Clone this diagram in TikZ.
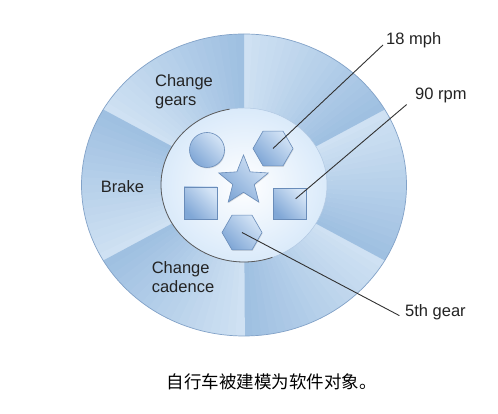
\documentclass[tikz,border=0pt]{standalone}
\usepackage{fontspec}
\setmainfont{Liberation Sans}
\newfontfamily\cjkfont{Noto Sans CJK SC}
\usepackage{tikz}
\usetikzlibrary{positioning,shapes.geometric,shadows}
\definecolor{secLight}{RGB}{208,226,243}
\definecolor{secDark}{RGB}{158,191,225}
\definecolor{rimBlue}{RGB}{130,162,200}
\definecolor{hubBlue}{RGB}{218,234,250}
\definecolor{partLight}{RGB}{212,228,246}
\definecolor{partDark}{RGB}{128,167,214}
\definecolor{partEdge}{RGB}{105,140,185}
\definecolor{inkGray}{RGB}{35,35,35}
\definecolor{lineGray}{RGB}{50,50,50}
\newcommand\labelfont{\fontsize{16.5}{19}\selectfont}

\begin{document}
\begin{tikzpicture}[
    x=1pt, y=1pt,
    on grid,
    part/.style={draw=partEdge, line width=0.6pt, inner sep=0pt, top color=partLight, bottom color=partDark, shading angle=-45,
      drop shadow={shadow xshift=0.6pt, shadow yshift=-1pt, opacity=0.25}},
    sector text/.style={font=\labelfont, text=inkGray, align=left},
    reading/.style={font=\labelfont, text=inkGray, inner sep=3pt, anchor=base west},
    callout/.style={draw=lineGray, line width=0.9pt}
]
  \path[fill=white, use as bounding box] (0,0) rectangle (498,414);
  \coordinate (hub) at (244,229);

  % wheel: six sectors, each one shaded round the hub
  \foreach \b in {-90,-30,30,90,150,210} {
    \foreach \i in {0,...,19} {
      \pgfmathsetmacro\t{\b+3*\i}
      \pgfmathtruncatemacro\p{5*\i+2}
      \fill[secLight!\p!secDark] (hub) -- ++(\t:162.5 and 151)
        arc[start angle=\t, delta angle=3.3, x radius=162.5, y radius=151] -- cycle;
    }
  }
  \draw[rimBlue, line width=0.7pt] (hub) ellipse[x radius=162.5, y radius=151];

  % the object core
  \shade[inner color=white, outer color=hubBlue] (hub) ellipse[x radius=83, y radius=77];
  \draw[secLight!60!rimBlue, line width=0.5pt] (hub) ellipse[x radius=83, y radius=77];
  \draw[lineGray!80, line width=0.8pt] (hub) ++(100:83 and 77)
    arc[start angle=100, end angle=290, x radius=83, y radius=77];

  \node[part, star, star points=5, star point ratio=2.3, minimum size=52pt] (star) at (243.5,233) {};
  \node[part, circle, minimum size=35pt] (ball) [above left=31pt and 36.5pt of star] {};
  \node[part, regular polygon, regular polygon sides=6, minimum size=40pt] (hexTop) [above right=32.5pt and 29.5pt of star] {};
  \node[part, rectangle, minimum width=33pt, minimum height=32pt] (sqLeft) [below left=22pt and 43pt of star] {};
  \node[part, rectangle, minimum width=33pt, minimum height=31pt] (sqRight) [below right=23pt and 46pt of star] {};
  \node[part, regular polygon, regular polygon sides=6, minimum size=40pt] (hexBot) [below=51.5pt of star, xshift=-1.5pt] {};

  % methods
  \node[sector text] (gears) at (184,322) {Change\\gears};
  \node[sector text] (brake) at (122.5,227.5) {Brake};
  \node[sector text] (cadence) at (183,137) {Change\\cadence};

  % fields
  \node[reading] (mph) at (383,369) {18 mph};
  \node[reading] (rpm) at (412,314) {90 rpm};
  \node[reading] (gear) at (402,97) {5th gear};

  \draw[callout] (hexTop.center) -- (mph.base west);
  \draw[callout, shorten <=8pt, shorten >=7pt] (sqRight.center) -- (rpm.base west);
  \draw[callout, shorten >=3pt] (hexBot.center) -- (gear.base west);

  \node[font=\cjkfont\fontsize{17.5}{20}\selectfont] (caption) at (271.5,32) {自行车被建模为软件对象。};
\end{tikzpicture}
\end{document}
